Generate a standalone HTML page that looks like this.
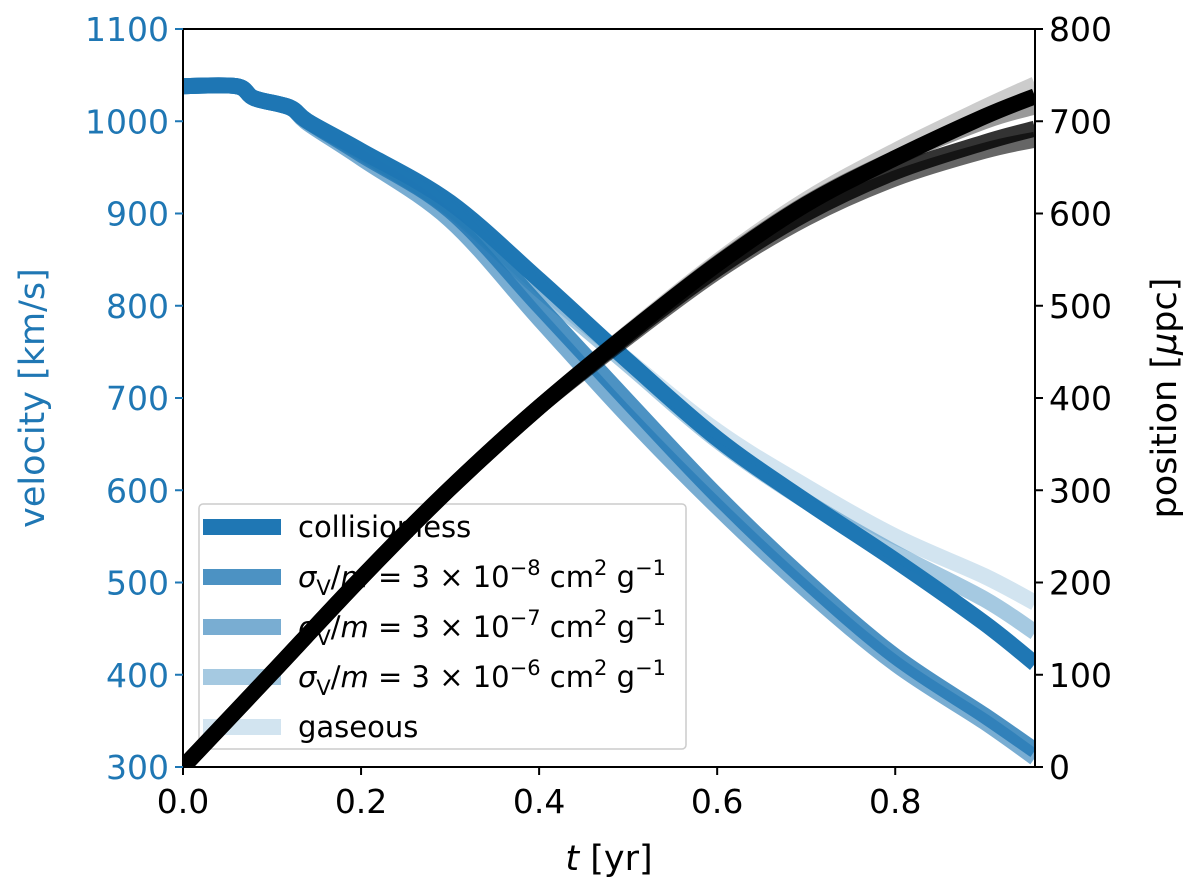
<!DOCTYPE html>
<html><head><meta charset="utf-8"><style>
html,body{margin:0;padding:0;background:#fff}
svg{display:block;font-family:"DejaVu Sans","Liberation Sans",sans-serif}
</style></head><body>
<svg id="chart" width="1200" height="888" viewBox="0 0 1200 888" xmlns="http://www.w3.org/2000/svg"></svg>
<script>
const tVals=[0,0.06,0.08,0.12,0.14,0.2,0.3,0.4,0.5,0.6,0.7,0.8,0.9,0.957];
const vCollisionless=[1038,1038,1025,1015,1000,968,912,828,740,656,588,524,456,412];
const vSigma8=[1038,1038,1025,1015,1000,964,903,800,696,594,502,420,356,318];
const vSigma7=[1038,1038,1025,1015,998,960,893,786,680,582,492,412,349,310];
const vSigma6=[1038,1038,1025,1015,1000,966,905,818,736,654,588,532,482,446];
const vGaseous=[1038,1038,1025,1015,1000,967,907,822,741,664,604,550,507,478];
const tPos=[0,0.1,0.2,0.3,0.4,0.5,0.6,0.7,0.8,0.9,0.957];
const pCollisionless=[0,102,205,302,390,470,545,610,660,705,727];
const pSigma8=[0,102,205,302,390,468,540,600,645,677,692];
const pSigma7=[0,102,205,302,390,466,537,595,638,668,680];
const pSigma6=[0,102,205,302,390,470,546,611,660,700,716];
const pGaseous=[0,102,205,302,390,471,548,615,668,715,740];
const xTicks=[0,0.2,0.4,0.6,0.8];
const vTicks=[300,400,500,600,700,800,900,1000,1100];
const pTicks=[0,100,200,300,400,500,600,700,800];

const L=183,R=1035,T=29,B=767;
const X=t=>L+t*(R-L)/0.957;
const YV=v=>B-(v-300)*(B-T)/800;
const YP=p=>B-p*(B-T)/800;
const svg=document.getElementById('chart');
const NS='http://www.w3.org/2000/svg';
function mk(tag,attrs,parent){const e=document.createElementNS(NS,tag);for(const k in attrs)e.setAttribute(k,attrs[k]);(parent||svg).appendChild(e);return e;}
function pathFrom(xs,ys,fy){
  const P=xs.map((t,i)=>[X(t),fy(ys[i])]);
  let d='M'+P[0][0].toFixed(1)+','+P[0][1].toFixed(1);
  for(let i=0;i<P.length-1;i++){
    const p0=P[i-1]||P[i],p1=P[i],p2=P[i+1],p3=P[i+2]||P[i+1];
    const c1=[p1[0]+(p2[0]-p0[0])/6,p1[1]+(p2[1]-p0[1])/6];
    const c2=[p2[0]-(p3[0]-p1[0])/6,p2[1]-(p3[1]-p1[1])/6];
    d+='C'+c1[0].toFixed(1)+','+c1[1].toFixed(1)+' '+c2[0].toFixed(1)+','+c2[1].toFixed(1)+' '+p2[0].toFixed(1)+','+p2[1].toFixed(1);
  }
  return d;
}

const clip=mk('clipPath',{id:'pc'});mk('rect',{x:L,y:T,width:R-L,height:B-T},clip);
const gV=mk('g',{'clip-path':'url(#pc)'});


const vSeries=[[vCollisionless,1,'velocity-collisionless'],[vSigma8,0.8,'velocity-sigma-3e-8'],[vSigma7,0.6,'velocity-sigma-3e-7'],[vSigma6,0.4,'velocity-sigma-3e-6'],[vGaseous,0.2,'velocity-gaseous']];
vSeries.forEach(s=>{const p=mk('path',{d:pathFrom(tVals,s[0],YV),fill:'none',stroke:'#1f77b4','stroke-opacity':s[1],'stroke-width':16,'stroke-linejoin':'round'},gV);

});

const lg=mk('g',{});


mk('rect',{x:199,y:504,width:487,height:245,rx:4,fill:'#fff','fill-opacity':0.8,stroke:'#ccc','stroke-width':1.5},lg);
function sig(n){return '<tspan font-style="italic">σ</tspan><tspan font-size="21" dy="8">V</tspan><tspan dy="-8">/</tspan><tspan font-style="italic">m</tspan> = 3 × 10<tspan font-size="21" dy="-12">−'+n+'</tspan><tspan dy="12"> cm</tspan><tspan font-size="21" dy="-12">2</tspan><tspan dy="12"> g</tspan><tspan font-size="21" dy="-12">−1</tspan>';}
const labels=['collisionless',sig(8),sig(7),sig(6),'gaseous'];
const alphas=[1,0.8,0.6,0.4,0.2];
labels.forEach((lab,i)=>{const y=527+i*50;
const sw=mk('rect',{x:203,y:y-8,width:78,height:16,fill:'#1f77b4','fill-opacity':alphas[i]},lg);


const tx=mk('text',{x:298,y:y+10,'font-size':29,fill:'#000'},lg);tx.innerHTML=lab;

});

const gP=mk('g',{'clip-path':'url(#pc)'});


const pSeries=[[pGaseous,0.2,'position-gaseous'],[pSigma6,0.4,'position-sigma-3e-6'],[pSigma7,0.6,'position-sigma-3e-7'],[pSigma8,0.8,'position-sigma-3e-8'],[pCollisionless,1,'position-collisionless']];
pSeries.forEach(s=>{const p=mk('path',{d:pathFrom(tPos,s[0],YP),fill:'none',stroke:'#000','stroke-opacity':s[1],'stroke-width':16,'stroke-linejoin':'round'},gP);

});

const fr=mk('rect',{x:L,y:T,width:R-L,height:B-T,fill:'none',stroke:'#000','stroke-width':2});


xTicks.forEach(t=>{mk('line',{x1:X(t),x2:X(t),y1:B,y2:B+8,stroke:'#000','stroke-width':2});
const tx=mk('text',{x:X(t),y:B+46,'font-size':33,'text-anchor':'middle'});tx.textContent=t.toFixed(1);

});
vTicks.forEach(v=>{mk('line',{x1:L,x2:L-8,y1:YV(v),y2:YV(v),stroke:'#1f77b4','stroke-width':2});
const tx=mk('text',{x:L-14,y:YV(v)+12,'font-size':33,'text-anchor':'end',fill:'#1f77b4'});tx.textContent=v;

});
pTicks.forEach(p=>{mk('line',{x1:R,x2:R+8,y1:YP(p),y2:YP(p),stroke:'#000','stroke-width':2});
const tx=mk('text',{x:R+14,y:YP(p)+12,'font-size':33,'text-anchor':'start'});tx.textContent=p;

});
const xl=mk('text',{x:609,y:870,'font-size':35,'text-anchor':'middle'});xl.innerHTML='<tspan font-style="italic">t</tspan> [yr]';


const yl=mk('text',{x:0,y:0,'font-size':35,'text-anchor':'middle',fill:'#1f77b4',transform:'translate(44,398) rotate(-90)'});yl.textContent='velocity [km/s]';


const yr=mk('text',{x:0,y:0,'font-size':35,'text-anchor':'middle',transform:'translate(1176,398) rotate(-90)'});yr.innerHTML='position [<tspan font-style="italic">μ</tspan>pc]';


</script>
</body></html>
